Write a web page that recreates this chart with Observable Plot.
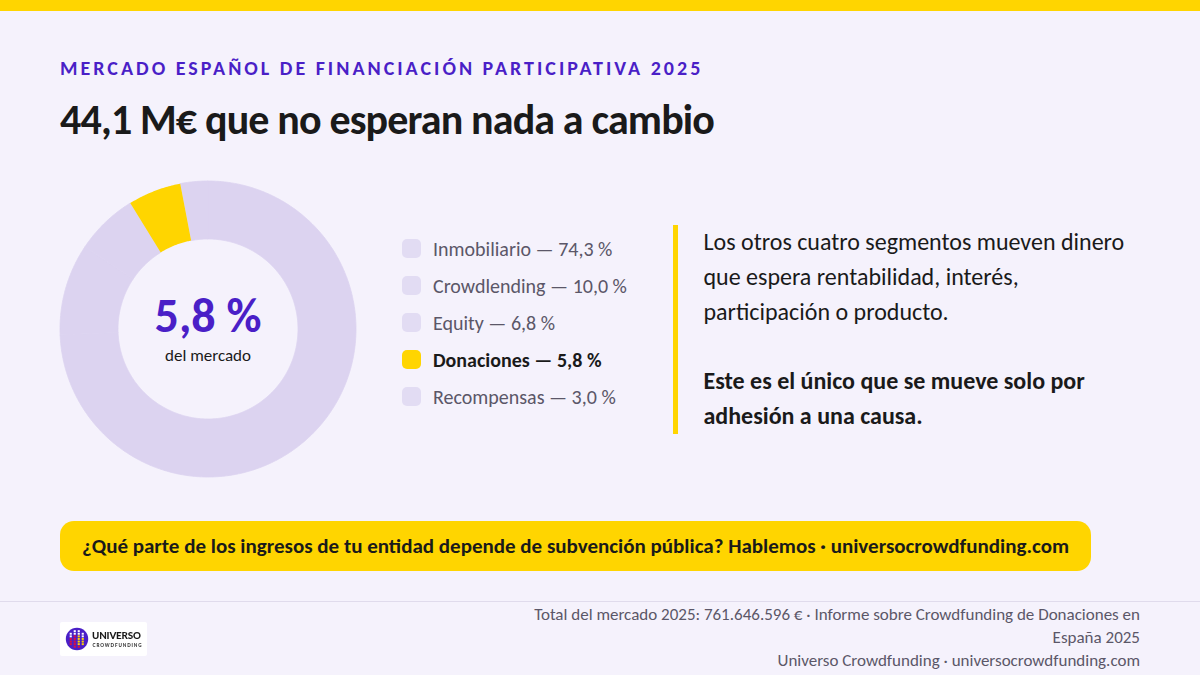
<!DOCTYPE html>
<html lang="es">
<head>
<meta charset="utf-8">
<script src="https://cdn.jsdelivr.net/npm/d3@7"></script>
<script src="https://cdn.jsdelivr.net/npm/@observablehq/plot@0.6"></script>
<style>
html,body{margin:0;padding:0;width:1200px;height:675px;overflow:hidden;background:#F5F2FC;font-family:Carlito,Lato,sans-serif;color:#1a1a1a}
#page{position:relative;width:1200px;height:675px}
#page>*{position:absolute}
#bar{left:0;top:0;width:1200px;height:11px;background:#FFD500}
#eyebrow{left:60px;top:57px;font-size:20px;font-weight:700;letter-spacing:3px;color:#4A1FC7;white-space:nowrap;line-height:22px}
#title{left:60px;top:95px;font-size:42px;font-weight:700;letter-spacing:-.84px;white-space:nowrap;line-height:50px;color:#1a1a1a}
#chart{left:60px;top:181px;width:296px;height:296px}
#legend{left:402px;top:230px}
.row{position:absolute;left:0;display:flex;align-items:center;white-space:nowrap;font-size:20px;color:#5b5768;height:37px}
.row.on{font-weight:700;color:#1a1a1a}
.sw{width:19px;height:19px;border-radius:5px;margin-right:12px;background:#E2DCF3}
.row.on .sw{background:#FFD500}
#note{left:673px;top:225px;width:5px;height:209px;background:#FFD500}
#copy{left:703.5px;top:224px;width:450px;font-size:24px;line-height:35px;color:#1a1a1a}
#copy p{margin:0}
#copy p+p{margin-top:34px;font-weight:700}
#cta{left:60px;top:521px;width:1031px;height:50px;border-radius:14px;background:#FFD500;font-size:21px;font-weight:700;line-height:50px;text-indent:22px;white-space:nowrap;color:#1a1a1a}
#rule{left:0;top:601px;width:1200px;height:1px;background:#E0DBEC}
#logo{left:60px;top:622px;width:87px;height:34px;background:#fff;border-radius:2px}
#logo svg{filter:blur(.3px);display:block}
#foot{right:60px;top:604.4px;width:640px;text-align:right;font-size:17px;line-height:22.95px;color:#5b5768}
</style>
</head>
<body>
<div id="page">
  <div id="bar"></div>
  <div id="eyebrow"></div>
  <div id="title"></div>
  <div id="chart"></div>
  <div id="legend"></div>
  <div id="note"></div>
  <div id="copy"></div>
  <div id="cta"></div>
  <div id="rule"></div>
  <div id="logo"></div>
  <div id="foot"></div>
</div>
<script>
const segments = ["Inmobiliario", "Crowdlending", "Equity", "Donaciones", "Recompensas"];
const shares = [74.3, 10.0, 6.8, 5.8, 3.0];
const highlighted = "Donaciones";
const eyebrowText = "MERCADO ESPAÑOL DE FINANCIACIÓN PARTICIPATIVA 2025";
const titleText = "44,1 M€ que no esperan nada a cambio";
const centerValue = "5,8 %";
const centerLabel = "del mercado";
const copyLines = [
  ["Los otros cuatro segmentos mueven dinero", "que espera rentabilidad, interés,", "participación o producto."],
  ["Este es el único que se mueve solo por", "adhesión a una causa."]
];
const ctaText = "¿Qué parte de los ingresos de tu entidad depende de subvención pública? Hablemos · universocrowdfunding.com";
const footLines = ["Total del mercado 2025: 761.646.596 € · Informe sobre Crowdfunding de Donaciones en", "España 2025", "Universo Crowdfunding · universocrowdfunding.com"];

const fmt = v => v.toFixed(1).replace(".", ",") + " %";
document.getElementById("eyebrow").textContent = eyebrowText;
document.getElementById("title").textContent = titleText;
document.getElementById("cta").textContent = ctaText;
document.getElementById("foot").innerHTML = footLines.join("<br>");
document.getElementById("copy").innerHTML = copyLines.map(p => "<p>" + p.join("<br>") + "</p>").join("");
document.getElementById("legend").innerHTML = segments.map((s, i) =>
  `<div class="row${s === highlighted ? " on" : ""}" style="top:${i * 37}px"><span class="sw"></span>${s} — ${fmt(shares[i])}</div>`).join("");

const innerRatio = 90 / 148;
const total = d3.sum(shares);
let cum = 0;
const ring = [];
segments.forEach((s, i) => {
  const a0 = cum / total * 2 * Math.PI;
  cum += shares[i];
  const a1 = cum / total * 2 * Math.PI;
  const n = Math.max(4, Math.ceil((a1 - a0) / 0.01));
  const steps = d3.range(n + 1).map(k => a0 + (a1 - a0) * k / n);
  steps.forEach(a => ring.push({s, px: Math.sin(a), py: Math.cos(a)}));
  steps.reverse().forEach(a => ring.push({s, px: innerRatio * Math.sin(a), py: innerRatio * Math.cos(a)}));
});

const plot = Plot.plot({
  width: 296, height: 296,
  margin: 0,
  x: {domain: [-1, 1], axis: null},
  y: {domain: [-1, 1], axis: null},
  style: {background: "transparent", overflow: "visible"},
  marks: [
    Plot.line(ring.filter(d => d.s !== highlighted), {
      x: "px", y: "py", z: "s", dx: -0.5, dy: -0.5,
      fill: "#DCD3F0", stroke: "#DCD3F0", strokeWidth: 0.8, curve: "linear-closed"
    }),
    Plot.line(ring.filter(d => d.s === highlighted), {
      x: "px", y: "py", z: "s", dx: -0.5, dy: -0.5,
      fill: "#FFD500", stroke: "none", curve: "linear-closed"
    }),
    Plot.text([centerValue], {
      x: [0], y: [0], text: d => d, dx: -0.5, dy: -13,
      fontFamily: "Carlito, Lato", fontSize: 48, fontWeight: 700, fill: "#4A1FC7"
    }),
    Plot.text([centerLabel], {
      x: [0], y: [0], text: d => d, dx: -0.5, dy: 26.5,
      fontFamily: "Carlito, Lato", fontSize: 17, fill: "#1a1a1a"
    })
  ]
});
document.getElementById("chart").appendChild(plot);

// Logo mark: one string per column, one letter per row (w white, r red, y yellow, . empty)
const logoColumns = [".wwrrr.", "wwrrrrr", "wwyyyyr", ".wwyyy."];
const logoFill = {w: "#ffffff", r: "#E0103A", y: "#FFD500"};
let logo = `<svg width="87" height="34" viewBox="0 0 87 34" xmlns="http://www.w3.org/2000/svg">
<circle cx="17" cy="17" r="11.2" fill="#4A1FC7"/>`;
logoColumns.forEach((col, c) => {
  [...col].forEach((k, r) => {
    if (logoFill[k]) logo += `<rect x="${9.7 + c * 4}" y="${8.2 + r * 2.6}" width="2.1" height="1.9" fill="${logoFill[k]}"/>`;
  });
});
logo += `<text x="32" y="17.3" font-family="Lato" font-size="9.8" font-weight="900" textLength="49" lengthAdjust="spacing" fill="#1a1a1a">UNIVERSO</text>
<text x="32.6" y="24.6" font-family="Lato" font-size="4.6" font-weight="900" textLength="49" lengthAdjust="spacing" fill="#333">CROWDFUNDING</text></svg>`;
document.getElementById("logo").innerHTML = logo;
</script>
</body>
</html>
